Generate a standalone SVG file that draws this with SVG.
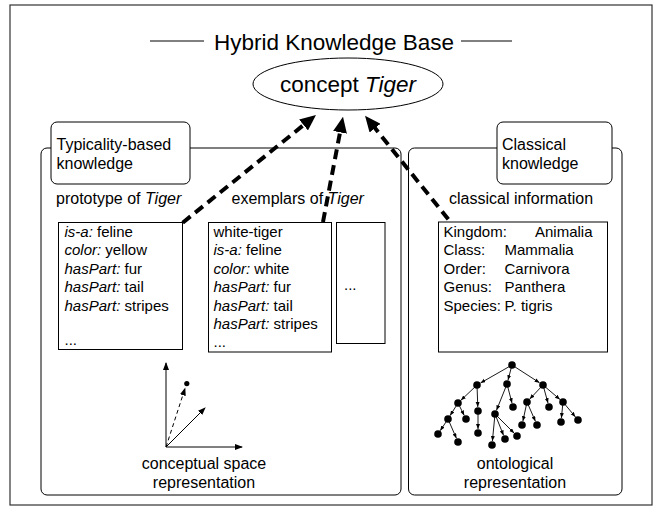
<svg xmlns="http://www.w3.org/2000/svg" width="655" height="506" viewBox="0 0 655 506">
<style>
text{font-family:"Liberation Sans",Arial,Helvetica,sans-serif;fill:#000}
.t{font-size:22.5px}
.c{font-size:22.5px}
.lab{font-size:16px}
.box{font-size:15px}
.i{font-style:italic}
.panel{fill:#fff;stroke:#000;stroke-width:1}
.lbox{fill:#fff;stroke:#000;stroke-width:1}
.rect{fill:#fff;stroke:#000;stroke-width:1}
.dash{fill:none;stroke:#000;stroke-width:4;stroke-dasharray:10 6}
.thin{fill:none;stroke:#000;stroke-width:1}
.edge{fill:none;stroke:#000;stroke-width:0.9}
.node{fill:#000}
</style>
<defs>
<marker id="big" markerUnits="userSpaceOnUse" markerWidth="16" markerHeight="14" refX="2" refY="7" orient="auto"><path d="M0,0 L16,7 L0,14 z" fill="#000"/></marker>
<marker id="sm" markerUnits="userSpaceOnUse" markerWidth="9" markerHeight="7" refX="7" refY="3" orient="auto"><path d="M0,0 L8,3 L0,6 z" fill="#000"/></marker>
<marker id="tiny" markerUnits="userSpaceOnUse" markerWidth="6" markerHeight="5" refX="5" refY="2" orient="auto"><path d="M0,0 L5,2 L0,4 z" fill="#000"/></marker>
</defs>
<rect x="10" y="5" width="642" height="500" fill="#fff" stroke="#333" stroke-width="1.2"/>
<g id="title">
<line x1="150" y1="41" x2="204" y2="41" stroke="#000" stroke-width="1"/>
<line x1="461" y1="41" x2="512" y2="41" stroke="#000" stroke-width="1"/>
<text class="t" x="334" y="49.5" text-anchor="middle">Hybrid Knowledge Base</text>
</g>
<g id="concept">
<ellipse cx="348" cy="84" rx="95" ry="26" fill="#fff" stroke="#000" stroke-width="1"/>
<text class="c" x="348" y="91.5" text-anchor="middle">concept <tspan class="i">Tiger</tspan></text>
</g>
<g id="typicality-panel">
<rect class="panel" x="41" y="148" width="360" height="347" rx="6"/>
<rect class="lbox" x="51" y="122" width="139" height="62" rx="6"/>
<text class="lab" x="56.5" y="149.5">Typicality-based</text>
<text class="lab" x="56.5" y="168.5">knowledge</text>
<text class="lab" x="56" y="204">prototype of <tspan class="i">Tiger</tspan></text>
<text class="lab" x="231.5" y="204">exemplars of <tspan class="i">Tiger</tspan></text>
</g>
<g id="prototype">
<rect class="rect" x="58.5" y="222.5" width="124" height="127"/>
<text class="box" x="64.5" y="236.5"><tspan class="i">is-a:</tspan> feline</text>
<text class="box" x="64.5" y="255"><tspan class="i">color:</tspan> yellow</text>
<text class="box" x="64.5" y="273.5"><tspan class="i">hasPart:</tspan> fur</text>
<text class="box" x="64.5" y="292"><tspan class="i">hasPart:</tspan> tail</text>
<text class="box" x="64.5" y="310.5"><tspan class="i">hasPart:</tspan> stripes</text>
<text class="box" x="64.5" y="345">...</text>
</g>
<g id="exemplar">
<rect class="rect" x="208.5" y="222.5" width="123" height="129.5"/>
<text class="box" x="213.5" y="236.5">white-tiger</text>
<text class="box" x="213.5" y="255"><tspan class="i">is-a:</tspan> feline</text>
<text class="box" x="213.5" y="273.5"><tspan class="i">color:</tspan> white</text>
<text class="box" x="213.5" y="292"><tspan class="i">hasPart:</tspan> fur</text>
<text class="box" x="213.5" y="310.5"><tspan class="i">hasPart:</tspan> tail</text>
<text class="box" x="213.5" y="329"><tspan class="i">hasPart:</tspan> stripes</text>
<text class="box" x="213.5" y="347">...</text>
</g>
<g id="exemplar-more">
<rect class="rect" x="336.5" y="222.5" width="48.5" height="121"/>
<text class="box" x="344" y="290">...</text>
</g>
<g id="conceptual-space">
<line class="thin" x1="166" y1="447" x2="166" y2="363" marker-end="url(#sm)"/>
<line class="thin" x1="166" y1="447" x2="242" y2="447" marker-end="url(#sm)"/>
<line class="thin" x1="166" y1="447" x2="205" y2="408" marker-end="url(#sm)"/>
<line class="thin" x1="166" y1="447" x2="185" y2="388.5" stroke-dasharray="4 3" marker-end="url(#sm)"/>
<circle cx="186.8" cy="383.6" r="2.6" fill="#000"/>
<text class="lab" x="204" y="468.5" text-anchor="middle">conceptual space</text>
<text class="lab" x="204" y="488" text-anchor="middle">representation</text>
</g>
<g id="classical-panel">
<rect class="panel" x="408.5" y="148" width="213.5" height="347" rx="6"/>
<rect class="lbox" x="497" y="122" width="115" height="62" rx="6"/>
<text class="lab" x="502" y="149.5">Classical</text>
<text class="lab" x="502" y="168.5">knowledge</text>
<text class="lab" x="449" y="204">classical information</text>
</g>
<g id="classical">
<rect class="rect" x="438.5" y="222" width="169" height="130"/>
<text class="box" x="443.5" y="236.5">Kingdom:</text><text class="box" x="535" y="236.5">Animalia</text>
<text class="box" x="443.5" y="255">Class:</text><text class="box" x="504.5" y="255">Mammalia</text>
<text class="box" x="443.5" y="273.5">Order:</text><text class="box" x="504.5" y="273.5">Carnivora</text>
<text class="box" x="443.5" y="292">Genus:</text><text class="box" x="504.5" y="292">Panthera</text>
<text class="box" x="443.5" y="310.5">Species:</text><text class="box" x="504.5" y="310.5">P. tigris</text>
</g>
<g id="ontology">
<g class="edges">
<line class="edge" x1="512" y1="365" x2="480.5" y2="383" marker-end="url(#tiny)"/>
<line class="edge" x1="512" y1="365" x2="508" y2="380.1" marker-end="url(#tiny)"/>
<line class="edge" x1="512" y1="365" x2="539.6" y2="382.8" marker-end="url(#tiny)"/>
<line class="edge" x1="477" y1="385" x2="460.9" y2="400.3" marker-end="url(#tiny)"/>
<line class="edge" x1="477" y1="385" x2="477.8" y2="407" marker-end="url(#tiny)"/>
<line class="edge" x1="507" y1="384" x2="496.5" y2="410.3" marker-end="url(#tiny)"/>
<line class="edge" x1="507" y1="384" x2="512" y2="403.1" marker-end="url(#tiny)"/>
<line class="edge" x1="543" y1="385" x2="529.7" y2="399.1" marker-end="url(#tiny)"/>
<line class="edge" x1="543" y1="385" x2="548" y2="403.1" marker-end="url(#tiny)"/>
<line class="edge" x1="543" y1="385" x2="559.9" y2="399.4" marker-end="url(#tiny)"/>
<line class="edge" x1="458" y1="403" x2="450.1" y2="415.6" marker-end="url(#tiny)"/>
<line class="edge" x1="458" y1="403" x2="464.2" y2="415.4" marker-end="url(#tiny)"/>
<line class="edge" x1="478" y1="411" x2="478" y2="429" marker-end="url(#tiny)"/>
<line class="edge" x1="495" y1="414" x2="492.4" y2="441" marker-end="url(#tiny)"/>
<line class="edge" x1="495" y1="414" x2="503.5" y2="435.3" marker-end="url(#tiny)"/>
<line class="edge" x1="495" y1="414" x2="514.2" y2="433.2" marker-end="url(#tiny)"/>
<line class="edge" x1="527" y1="402" x2="522.9" y2="421.1" marker-end="url(#tiny)"/>
<line class="edge" x1="527" y1="402" x2="535.4" y2="421.3" marker-end="url(#tiny)"/>
<line class="edge" x1="563" y1="402" x2="561.4" y2="418" marker-end="url(#tiny)"/>
<line class="edge" x1="563" y1="402" x2="575.4" y2="416.9" marker-end="url(#tiny)"/>
<line class="edge" x1="448" y1="419" x2="440.2" y2="430.7" marker-end="url(#tiny)"/>
<line class="edge" x1="448" y1="419" x2="456.4" y2="438.3" marker-end="url(#tiny)"/>
</g>
<g class="nodes">
<circle class="node" cx="512" cy="365" r="3.8"/>
<circle class="node" cx="477" cy="385" r="3.8"/>
<circle class="node" cx="507" cy="384" r="3.8"/>
<circle class="node" cx="543" cy="385" r="3.8"/>
<circle class="node" cx="458" cy="403" r="3.8"/>
<circle class="node" cx="478" cy="411" r="3.8"/>
<circle class="node" cx="495" cy="414" r="3.8"/>
<circle class="node" cx="513" cy="407" r="3.8"/>
<circle class="node" cx="527" cy="402" r="3.8"/>
<circle class="node" cx="549" cy="407" r="3.8"/>
<circle class="node" cx="563" cy="402" r="3.8"/>
<circle class="node" cx="448" cy="419" r="3.8"/>
<circle class="node" cx="466" cy="419" r="3.8"/>
<circle class="node" cx="478" cy="433" r="3.8"/>
<circle class="node" cx="492" cy="445" r="3.8"/>
<circle class="node" cx="505" cy="439" r="3.8"/>
<circle class="node" cx="517" cy="436" r="3.8"/>
<circle class="node" cx="522" cy="425" r="3.8"/>
<circle class="node" cx="537" cy="425" r="3.8"/>
<circle class="node" cx="561" cy="422" r="3.8"/>
<circle class="node" cx="578" cy="420" r="3.8"/>
<circle class="node" cx="438" cy="434" r="3.8"/>
<circle class="node" cx="458" cy="442" r="3.8"/>
</g>
<text class="lab" x="515" y="468.5" text-anchor="middle">ontological</text>
<text class="lab" x="515" y="488" text-anchor="middle">representation</text>
</g>
<g id="connectors">
<line class="dash" x1="182.7" y1="222.7" x2="305.1" y2="123.8" marker-end="url(#big)"/>
<line class="dash" x1="323" y1="222" x2="340.4" y2="130.4" marker-end="url(#big)"/>
<line class="dash" x1="448.3" y1="219.3" x2="373.8" y2="126.6" marker-end="url(#big)"/>
</g>
</svg>
